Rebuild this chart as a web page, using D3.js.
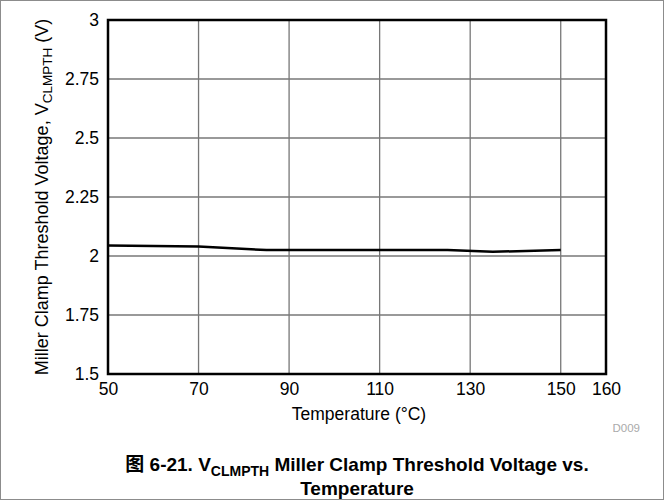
<!DOCTYPE html>
<html><head><meta charset="utf-8">
<script src="https://cdn.jsdelivr.net/npm/d3@7"></script>
<style>body{margin:0;background:#fff}svg{display:block}text{font-family:"Liberation Sans",Arial,sans-serif}</style>
</head><body>
<svg id="c" width="664" height="500"></svg>
<script>
const temps = [50, 70, 85, 90, 110, 125, 135, 150];
const vclmpth = [2.045, 2.04, 2.025, 2.025, 2.025, 2.025, 2.018, 2.025];
const xTicks = [50, 70, 90, 110, 130, 150, 160];
const yTicks = [1.5, 1.75, 2, 2.25, 2.5, 2.75, 3];
const yTickLabels = ["1.5", "1.75", "2", "2.25", "2.5", "2.75", "3"];

const svg = d3.select("#c");
const m = {l:108, r:606, t:20, b:374};
const x = d3.scaleLinear().domain([50,160]).range([m.l,m.r]);
const y = d3.scaleLinear().domain([1.5,3]).range([m.b,m.t]);

svg.append("rect").attr("x",0.5).attr("y",0.5).attr("width",663).attr("height",499)
  .attr("fill","none").attr("stroke","#8c8c8c").attr("stroke-width",1);

// grid
svg.append("g").selectAll("line").data(xTicks.slice(1,-1)).join("line")
  .attr("x1",d=>x(d)).attr("x2",d=>x(d)).attr("y1",m.t).attr("y2",m.b)
  .attr("stroke","#777").attr("stroke-width",1.3);
svg.append("g").selectAll("line").data(yTicks.slice(1,-1)).join("line")
  .attr("y1",d=>y(d)).attr("y2",d=>y(d)).attr("x1",m.l).attr("x2",m.r)
  .attr("stroke","#777").attr("stroke-width",1.3);

// data line
svg.append("path").datum(temps.map((t,i)=>[t,vclmpth[i]]))
  .attr("d", d3.line().x(d=>x(d[0])).y(d=>y(d[1])))
  .attr("fill","none").attr("stroke","#000").attr("stroke-width",2.5);

// frame
svg.append("rect").attr("x",m.l).attr("y",m.t).attr("width",m.r-m.l).attr("height",m.b-m.t)
  .attr("fill","none").attr("stroke","#000").attr("stroke-width",2.5);

// axes labels
const xa = svg.append("g").attr("transform",`translate(0,${m.b})`)
  .call(d3.axisBottom(x).tickValues(xTicks).tickSize(0).tickPadding(9).tickFormat(d3.format("d")));
xa.select(".domain").remove();
xa.selectAll("text").attr("font-size",17.5).attr("fill","#000").attr("font-family","Liberation Sans, Arial, sans-serif");

const ya = svg.append("g").attr("transform",`translate(${m.l},0)`)
  .call(d3.axisLeft(y).tickValues(yTicks).tickSize(0).tickPadding(9).tickFormat((d,i)=>yTickLabels[i]));
ya.select(".domain").remove();
ya.selectAll("text").attr("font-size",17.5).attr("fill","#000").attr("font-family","Liberation Sans, Arial, sans-serif");

svg.append("text").attr("x",359).attr("y",420).attr("text-anchor","middle")
  .attr("font-size",17.5).text("Temperature (°C)");

const yl = svg.append("text").attr("transform",`translate(48,197) rotate(-90)`)
  .attr("text-anchor","middle").attr("font-size",18);
yl.append("tspan").text("Miller Clamp Threshold Voltage, V");
yl.append("tspan").attr("font-size",13.5).attr("dy",4).text("CLMPTH");
yl.append("tspan").attr("dy",-4).text(" (V)");

svg.append("text").attr("x",640).attr("y",432).attr("text-anchor","end")
  .attr("font-size",11.5).attr("fill","#aaa").text("D009");

const c1 = svg.append("text").attr("x",357).attr("y",471).attr("text-anchor","middle")
  .attr("font-size",19).attr("font-weight","bold");
c1.append("tspan").attr("font-family","Noto Sans CJK SC").text("图");
c1.append("tspan").text(" 6-21. V");
c1.append("tspan").attr("font-size",14).attr("dy",5).text("CLMPTH");
c1.append("tspan").attr("dy",-5).text(" Miller Clamp Threshold Voltage vs.");
svg.append("text").attr("x",357).attr("y",495).attr("text-anchor","middle")
  .attr("font-size",19).attr("font-weight","bold").text("Temperature");
</script>
</body></html>
